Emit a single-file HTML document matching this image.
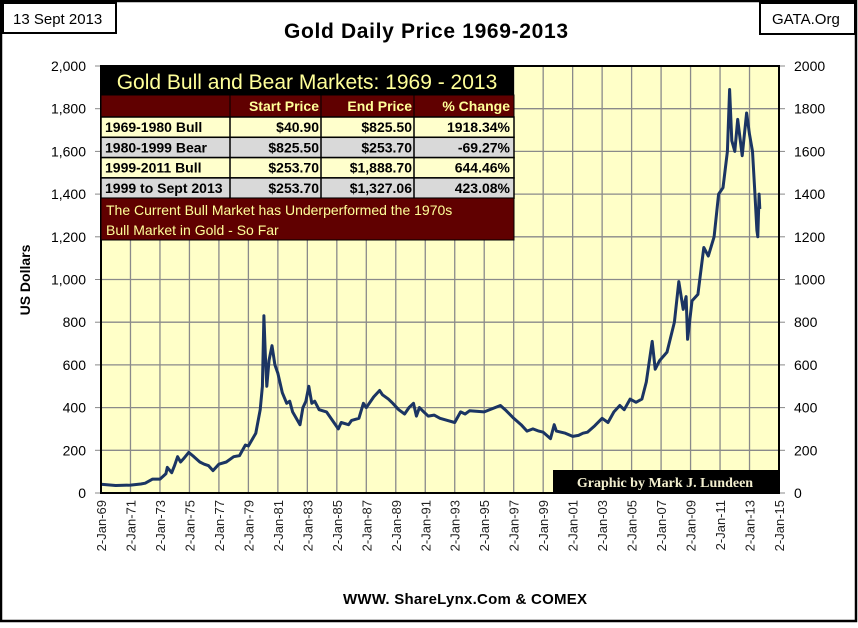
<!DOCTYPE html>
<html><head><meta charset="utf-8"><style>
body{margin:0;background:#fff}
svg text{font-family:"Liberation Sans",sans-serif}
</style></head><body>
<svg id="chart" width="858" height="623" xmlns="http://www.w3.org/2000/svg">
<rect x="1" y="1" width="855" height="620" fill="#fff" stroke="#000" stroke-width="2.5"/>
<rect x="3" y="3" width="113" height="30" fill="#fff" stroke="#000" stroke-width="2"/>
<text x="13" y="24" font-size="15">13 Sept 2013</text>
<rect x="760" y="3" width="95" height="31" fill="#fff" stroke="#000" stroke-width="2"/>
<text x="772" y="24" font-size="15">GATA.Org</text>
<text x="426" y="38" font-size="21" font-weight="bold" text-anchor="middle" textLength="284">Gold Daily Price 1969-2013</text>
<rect x="101" y="66" width="678" height="427" fill="#ffffc8"/>
<g id="grid"></g>
<g id="axes"></g>
<path id="series" fill="none" stroke="#1b3563" stroke-width="3" stroke-linejoin="round"/>
<rect x="101" y="66" width="678" height="427" fill="none" stroke="#000" stroke-width="2"/>
<g>
<rect x="101" y="67" width="413" height="28" fill="#000"/>
<text x="307" y="89" font-size="21" fill="#ffff99" text-anchor="middle">Gold Bull and Bear Markets: 1969 - 2013</text>
<rect x="101" y="95" width="413" height="22" fill="#600000" stroke="#000"/>
<line x1="230" y1="95" x2="230" y2="117" stroke="#000"/><line x1="321" y1="95" x2="321" y2="117" stroke="#000"/><line x1="414" y1="95" x2="414" y2="117" stroke="#000"/>
<g font-weight="bold" font-size="14" fill="#ffff99" text-anchor="end">
<text x="319" y="111">Start Price</text><text x="412" y="111">End Price</text><text x="510" y="111">% Change</text></g>
<g id="rows"></g>
<rect x="101" y="198" width="413" height="42" fill="#600000" stroke="#000"/>
<text x="106" y="215" font-size="14" fill="#ffff99">The Current Bull Market has Underperformed the 1970s</text>
<text x="106" y="235" font-size="14" fill="#ffff99">Bull Market in Gold - So Far</text>
</g>
<rect x="553" y="470" width="225" height="23" fill="#000"/>
<text x="665" y="487" font-size="14" font-weight="bold" fill="#f3efcf" text-anchor="middle" style="font-family:'Liberation Serif',serif">Graphic by Mark J. Lundeen</text>
<text transform="translate(30,280) rotate(-90)" font-size="14" font-weight="bold" text-anchor="middle">US Dollars</text>
<text x="465" y="604" font-size="15" font-weight="bold" text-anchor="middle" textLength="244">WWW. ShareLynx.Com &amp; COMEX</text>
</svg>
<script>
const years=[1969,1971,1973,1975,1977,1979,1981,1983,1985,1987,1989,1991,1993,1995,1997,1999,2001,2003,2005,2007,2009,2011,2013,2015];
const yTicks=[0,200,400,600,800,1000,1200,1400,1600,1800,2000];
const dates=[1969.0,1970,1971,1971.7,1972,1972.5,1973,1973.4,1973.5,1973.8,1974.0,1974.2,1974.4,1974.6,1974.95,1975.3,1975.7,1976.0,1976.3,1976.6,1977.0,1977.5,1978.0,1978.4,1978.8,1979.0,1979.5,1979.8,1979.95,1980.05,1980.15,1980.25,1980.4,1980.6,1980.8,1981.0,1981.3,1981.6,1981.8,1982.0,1982.5,1982.7,1982.9,1983.1,1983.3,1983.5,1983.8,1984.3,1984.7,1985.1,1985.3,1985.8,1986.0,1986.5,1986.8,1987.0,1987.5,1987.9,1988.1,1988.5,1988.8,1989.2,1989.6,1989.9,1990.2,1990.4,1990.6,1990.9,1991.2,1991.6,1992.0,1992.5,1993.0,1993.4,1993.7,1994,1995,1996.1,1996.5,1997.0,1997.5,1997.9,1998.3,1998.7,1999.0,1999.5,1999.75,1999.9,2000.5,2001.0,2001.4,2001.7,2002.0,2002.5,2003.0,2003.4,2003.8,2004.2,2004.5,2004.9,2005.3,2005.7,2006.0,2006.4,2006.6,2006.9,2007.4,2007.9,2008.2,2008.5,2008.7,2008.8,2009.1,2009.5,2009.9,2010.2,2010.6,2010.9,2011.2,2011.5,2011.65,2011.8,2012.0,2012.2,2012.5,2012.8,2013.0,2013.2,2013.35,2013.5,2013.56,2013.65,2013.7];
const prices=[41,35,37,42,46,65,65,90,120,95,130,170,145,160,190,170,145,135,128,105,135,145,170,175,225,220,280,390,500,830,650,500,620,690,600,560,470,420,430,380,320,400,430,500,420,430,390,380,340,300,330,320,340,350,420,400,450,480,460,440,420,390,370,400,420,360,400,380,360,365,350,340,330,380,370,385,380,410,385,350,320,290,300,290,285,255,320,290,280,265,270,280,285,315,350,330,380,410,390,440,425,440,520,710,580,620,660,800,990,860,920,720,900,930,1150,1110,1200,1400,1430,1600,1890,1650,1600,1750,1580,1780,1680,1600,1420,1230,1200,1400,1330];
const rowLabels=["1969-1980 Bull","1980-1999 Bear","1999-2011 Bull","1999 to Sept 2013"];
const startPrices=["$40.90","$825.50","$253.70","$253.70"];
const endPrices=["$825.50","$253.70","$1,888.70","$1,327.06"];
const changes=["1918.34%","-69.27%","644.46%","423.08%"];
const NS="http://www.w3.org/2000/svg";
const X=t=>101+(t-1969)*(678/46);
const Y=v=>493-v*(427/2000);
function mk(tag,attrs,parent,txt){const e=document.createElementNS(NS,tag);for(const k in attrs)e.setAttribute(k,attrs[k]);if(txt!==undefined)e.textContent=txt;parent.appendChild(e);return e;}
const grid=document.getElementById('grid'),axes=document.getElementById('axes');
years.forEach(y=>{const l=mk('line',{x1:X(y),x2:X(y),y1:66,y2:493,stroke:'#8a8a8a','stroke-width':1.3},grid);


const t=mk('text',{transform:`translate(${X(y)+5},${500}) rotate(-90)`,'font-size':13,'text-anchor':'end',fill:'#222'},axes,'2-Jan-'+String(y).slice(2));

});
yTicks.forEach(v=>{const l=mk('line',{x1:101,x2:779,y1:Y(v),y2:Y(v),stroke:'#8a8a8a','stroke-width':1.3},grid);


mk('line',{x1:95,x2:101,y1:Y(v),y2:Y(v),stroke:'#888'},axes);mk('line',{x1:779,x2:785,y1:Y(v),y2:Y(v),stroke:'#888'},axes);
const a=mk('text',{x:86,y:Y(v)+5,'font-size':14,'text-anchor':'end'},axes,v.toLocaleString('en-US'));


const b=mk('text',{x:794,y:Y(v)+5,'font-size':14},axes,String(v));

});
document.getElementById('series').setAttribute('d',dates.map((d,i)=>(i?'L':'M')+X(d).toFixed(1)+','+Y(prices[i]).toFixed(1)).join(''));
const rows=document.getElementById('rows');
rowLabels.forEach((r,i)=>{const y0=117+i*20.3;const g=mk('g',{},rows);


mk('rect',{x:101,y:y0,width:413,height:20.3,fill:i%2?'#d9d9d9':'#ffffcc',stroke:'#000','stroke-width':1.5},g);
[230,321,414].forEach(x=>mk('line',{x1:x,x2:x,y1:y0,y2:y0+20.3,stroke:'#000','stroke-width':1.5},g));
const st={'font-size':14,'font-weight':'bold'};
mk('text',Object.assign({x:105,y:y0+15},st),g,r);
mk('text',Object.assign({x:319,y:y0+15,'text-anchor':'end'},st),g,startPrices[i]);
mk('text',Object.assign({x:412,y:y0+15,'text-anchor':'end'},st),g,endPrices[i]);
mk('text',Object.assign({x:510,y:y0+15,'text-anchor':'end'},st),g,changes[i]);});
</script>
</body></html>
